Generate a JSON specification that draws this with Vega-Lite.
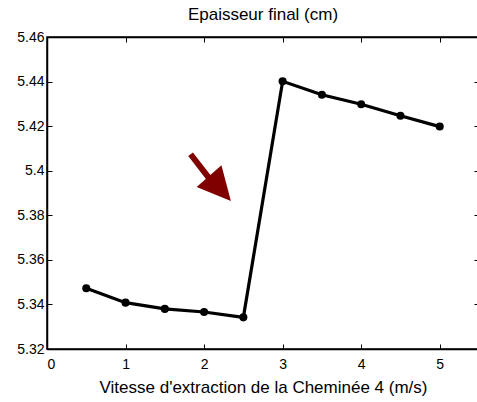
{
  "$schema": "https://vega.github.io/schema/vega-lite/v6.json",
  "autosize": "none",
  "padding": {"left": 47, "top": 37, "right": 0, "bottom": 53},
  "width": 432,
  "height": 312,
  "background": "white",
  "config": {
    "font": "Liberation Sans",
    "view": {"stroke": "black", "strokeWidth": 1.5},
    "axis": {"grid": false, "labelFont": "Liberation Sans", "titleFont": "Liberation Sans", "labelFontSize": 14, "titleFontSize": 17, "titleFontWeight": "normal", "labelColor": "black", "titleColor": "black", "domainColor": "black", "tickColor": "black", "domainWidth": 1.5, "tickWidth": 1}
  },
  "title": {"text": "Epaisseur final (cm)", "fontSize": 17, "fontWeight": "normal", "font": "Liberation Sans", "offset": 6, "anchor": "middle", "color": "black"},
  "datasets": {
    "main": [
      {"v": 0.5, "e": 5.3473},
      {"v": 1.0, "e": 5.3408},
      {"v": 1.5, "e": 5.3380},
      {"v": 2.0, "e": 5.3366},
      {"v": 2.5, "e": 5.3342},
      {"v": 3.0, "e": 5.4401},
      {"v": 3.5, "e": 5.4341},
      {"v": 4.0, "e": 5.4298},
      {"v": 4.5, "e": 5.4247},
      {"v": 5.0, "e": 5.4198}
    ],
    "shaft": [{"x1": 1.828, "y1": 5.4074, "x2": 2.10, "y2": 5.395}],
    "head": [{"x": 2.202, "y": 5.392}]
  },
  "layer": [
    {
      "data": {"name": "main"},
      "mark": {"type": "line", "color": "black", "strokeWidth": 3.2},
      "encoding": {
        "x": {"field": "v", "type": "quantitative", "scale": {"domain": [0, 5.5], "nice": false, "zero": false},
              "axis": {"orient": "bottom", "values": [0, 1, 2, 3, 4, 5], "tickSize": -5, "labelPadding": 13, "title": "Vitesse d'extraction de la Cheminée 4 (m/s)", "titlePadding": 8}},
        "y": {"field": "e", "type": "quantitative", "scale": {"domain": [5.32, 5.46], "nice": false, "zero": false},
              "axis": {"orient": "left", "values": [5.32, 5.34, 5.36, 5.38, 5.4, 5.42, 5.44, 5.46], "format": "~g", "tickSize": -5, "labelPadding": 8, "title": null}}
      }
    },
    {
      "data": {"name": "main"},
      "mark": {"type": "point", "filled": true, "color": "black", "opacity": 1, "size": 65},
      "encoding": {
        "x": {"field": "v", "type": "quantitative", "axis": null},
        "y": {"field": "e", "type": "quantitative", "axis": null}
      }
    },
    {
      "data": {"name": "shaft"},
      "mark": {"type": "rule", "color": "#800000", "strokeWidth": 6, "strokeCap": "butt"},
      "encoding": {
        "x": {"field": "x1", "type": "quantitative", "axis": null},
        "y": {"field": "y1", "type": "quantitative", "axis": null},
        "x2": {"field": "x2"},
        "y2": {"field": "y2"}
      }
    },
    {
      "data": {"name": "head"},
      "mark": {"type": "point", "shape": "M0,-1L1,1L-1,1Z", "filled": true, "color": "#800000", "opacity": 1, "size": 1089, "angle": 138.6},
      "encoding": {
        "x": {"field": "x", "type": "quantitative", "axis": null},
        "y": {"field": "y", "type": "quantitative", "axis": null}
      }
    },
    {
      "data": {"name": "main"},
      "mark": {"type": "point", "opacity": 0},
      "encoding": {
        "x": {"field": "v", "type": "quantitative",
              "axis": {"orient": "top", "values": [0, 1, 2, 3, 4, 5], "tickSize": -5, "labels": false, "title": null}},
        "y": {"field": "e", "type": "quantitative",
              "axis": {"orient": "right", "values": [5.32, 5.34, 5.36, 5.38, 5.4, 5.42, 5.44, 5.46], "tickSize": -5, "labels": false, "title": null}}
      }
    }
  ],
  "resolve": {"axis": {"x": "independent", "y": "independent"}}
}
